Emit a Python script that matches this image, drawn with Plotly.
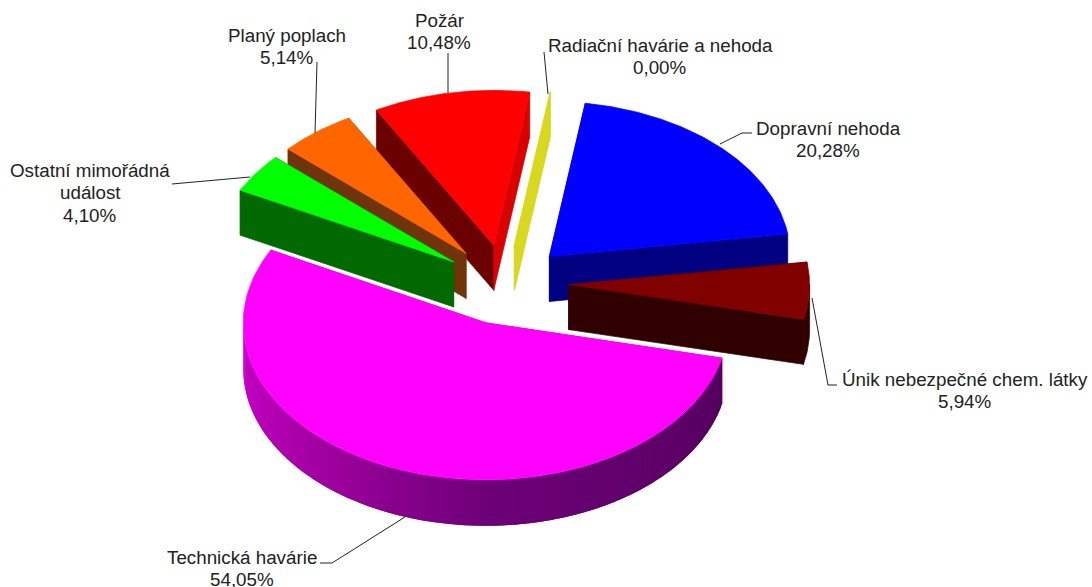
import numpy as np
import plotly.graph_objects as go

# ---- data (clockwise, starting at Technická havárie) ----
categories = ["Technická havárie", "Ostatní mimořádná<br>událost", "Planý poplach", "Požár",
              "Radiační havárie a nehoda", "Dopravní nehoda", "Únik nebezpečné chem. látky"]
values = [54.05, 4.10, 5.14, 10.48, 0.00, 20.28, 5.94]
percent_text = ["54,05%", "4,10%", "5,14%", "10,48%", "0,00%", "20,28%", "5,94%"]

# ---- styles ----
top_colors = ["#ff00ff", "#00ff00", "#ff6600", "#ff0000", "#d8d820", "#0000ff", "#800000"]
start_wall = ["#a000a0", "#006a00", "#70340a", "#6a0000", "#d8d820", "#000080", "#300000"]
end_wall = ["#a000a0", "#006a00", "#70340a", "#d80000", "#d8d820", "#000080", "#300000"]
outer_wall = ["#a000a0", "#006a00", "#70340a", "#6a0000", "#d8d820", "#000080", "#300000"]
gradient_stops = [(0.0, (205, 0, 205)), (0.30, (160, 0, 160)), (0.55, (110, 0, 120)), (1.0, (85, 0, 95))]

# ---- pie geometry (pixel-like axis units) ----
CX, CY = 505, 285
RX, RY = 241, 155
DEPTH = 45
EXPLODE = 0.26
FIRST_ANGLE = 103.0
PAINT_ORDER = [4, 3, 2, 1, 5, 6, 0]
# the nearest slice looks a little larger in the perspective of the original
slice_rx = [242.5, RX, RX, RX, RX, RX, RX]
slice_ry = [157, RY, RY, RY, RY, RY, RY]
slice_nudge = [(2.5, 0), (0, 0), (0, 0), (0, 0), (0, 0), (0, 0), (1, -2)]
slice_depth = [46, DEPTH, DEPTH, DEPTH, DEPTH, DEPTH, DEPTH]

LINE_GAP = 22.5
label_x = [241.5, 90, 287, 439, 660, 828, 965]
label_first_y = [557, 170, 35, 20, 45, 128, 379]
leaders = [
    [(405, 517), (332, 563), (320, 563)],
    [(250, 177), (172, 184)],
    [(315, 133), (317, 62)],
    [(448, 93), (448, 53)],
    [(548, 94), (544, 52)],
    [(720, 144), (742, 133), (752, 133)],
    [(812, 298), (828, 385), (837, 385)],
]

fig = go.Figure()


def pt(ax, ay, deg, rx, ry):
    r = np.radians(deg)
    return ax + rx * np.sin(r), ay - ry * np.cos(r)


def poly(xs, ys, color, width=0.7):
    fig.add_trace(go.Scatter(x=list(xs), y=list(ys), mode="lines", fill="toself", fillcolor=color,
                             line=dict(color=color, width=width), hoverinfo="skip", showlegend=False))


def grad(t):
    for (t0, c0), (t1, c1) in zip(gradient_stops, gradient_stops[1:]):
        if t <= t1:
            f = (t - t0) / (t1 - t0)
            c = [int(a + (b - a) * f) for a, b in zip(c0, c1)]
            return f"rgb({c[0]},{c[1]},{c[2]})"
    return f"rgb{gradient_stops[-1][1]}"


edges = FIRST_ANGLE + np.concatenate([[0], np.cumsum(values)]) * 3.6

for i in PAINT_ORDER:
    a0, a1 = edges[i], edges[i + 1]
    rx, ry, depth = slice_rx[i], slice_ry[i], slice_depth[i]
    mid = np.radians((a0 + a1) / 2)
    ax = CX + EXPLODE * RX * np.sin(mid) + slice_nudge[i][0]
    ay = CY - EXPLODE * RY * np.cos(mid) + slice_nudge[i][1]
    # straight cut walls
    for a, col in ((a0, start_wall[i]), (a1, end_wall[i])):
        x, y = pt(ax, ay, a, rx, ry)
        poly([ax, x, x, ax, ax], [ay, y, y + depth, ay + depth, ay], col)
    if values[i] == 0:
        continue
    # outer curved wall: only the part that faces the viewer
    lo, hi = max(a0 % 360, 90.0), min(a0 % 360 + (a1 - a0), 270.0)
    if hi > lo:
        if i == 0:
            steps = np.linspace(lo, hi, 160)
            for s0, s1 in zip(steps[::-1][1:], steps[::-1][:-1]):
                x0, y0 = pt(ax, ay, s0, rx, ry)
                x1, y1 = pt(ax, ay, min(s1 + 1.0, hi), rx, ry)
                poly([x0, x1, x1, x0, x0], [y0, y1, y1 + depth, y0 + depth, y0],
                     grad((hi - s0) / (hi - lo)), width=0)
        else:
            th = np.linspace(lo, hi, 40)
            xs, ys = pt(ax, ay, th, rx, ry)
            poly(np.r_[xs, xs[::-1], xs[0]], np.r_[ys, ys[::-1] + depth, ys[0]], outer_wall[i])
    # top face
    th = np.linspace(a0, a1, 120)
    xs, ys = pt(ax, ay, th, rx, ry)
    poly(np.r_[ax, xs, ax], np.r_[ay, ys, ay], top_colors[i])

for line in leaders:
    fig.add_trace(go.Scatter(x=[p[0] for p in line], y=[p[1] for p in line], mode="lines",
                             line=dict(color="#222222", width=1), hoverinfo="skip", showlegend=False))

for name, pct, x, y in zip(categories, percent_text, label_x, label_first_y):
    for k, txt in enumerate(name.split("<br>") + [pct]):
        fig.add_annotation(x=x, y=y + k * LINE_GAP, text=txt, showarrow=False, xanchor="center", yanchor="middle",
                           font=dict(family="Liberation Sans, Arial, sans-serif", size=18.8, color="#222222"))

fig.update_layout(width=1092, height=587, margin=dict(l=0, r=0, t=0, b=0), plot_bgcolor="white", paper_bgcolor="white",
                  showlegend=False,
                  xaxis=dict(range=[0, 1092], visible=False, fixedrange=True),
                  yaxis=dict(range=[587, 0], visible=False, fixedrange=True))

fig.write_html("out.html", post_script="document.body.style.margin='0';document.documentElement.style.overflow='hidden';",
               config={"displayModeBar": False})
